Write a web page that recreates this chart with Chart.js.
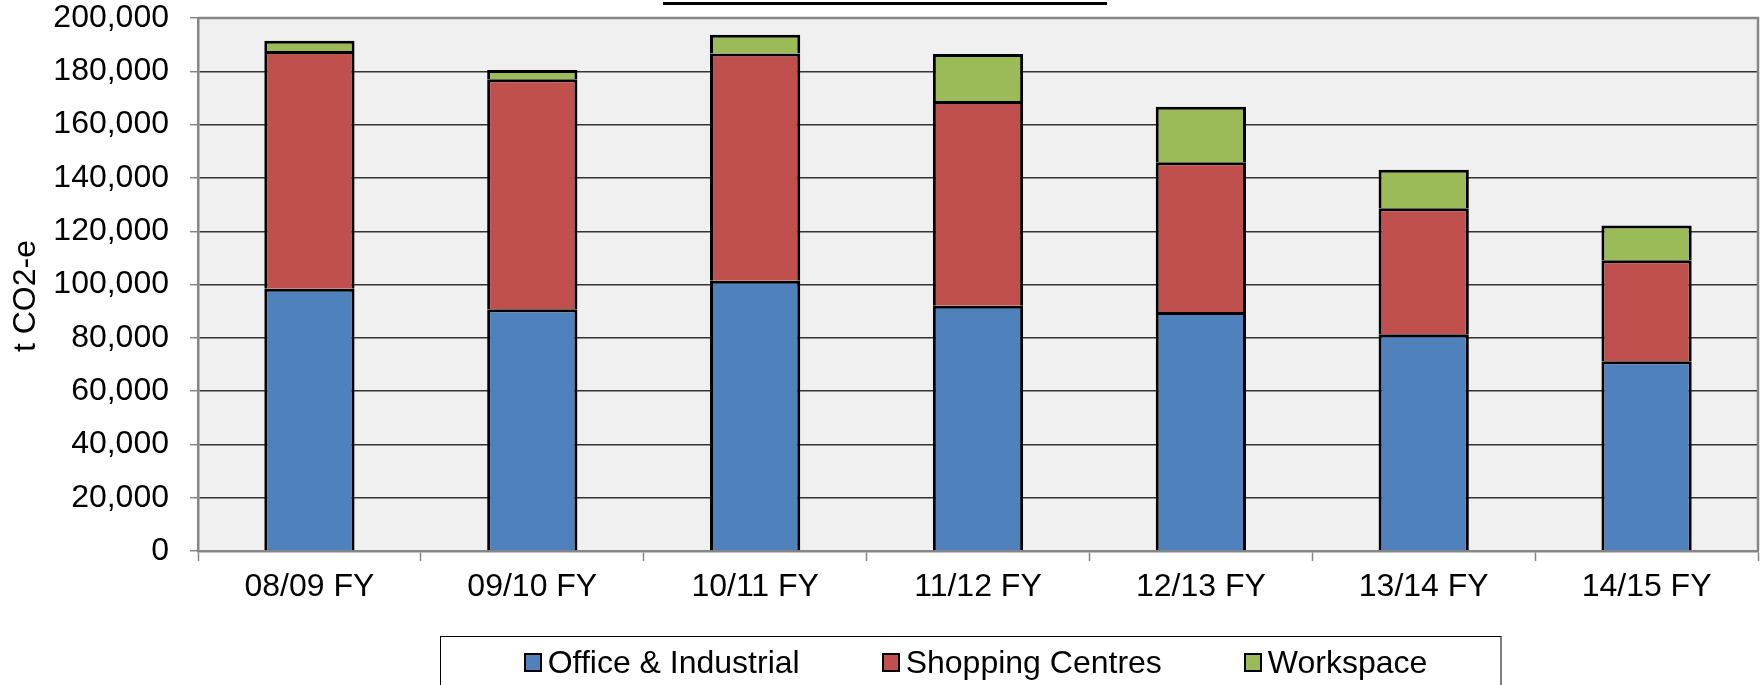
<!DOCTYPE html>
<html>
<head>
<meta charset="utf-8">
<script src="https://cdn.jsdelivr.net/npm/chart.js@4.4.1/dist/chart.umd.min.js"></script>
<style>
  html, body { margin: 0; padding: 0; background: #fff; overflow: hidden; }
  #wrap { position: relative; width: 1764px; height: 685px; }
  #c { position: absolute; left: 0; top: 0; }
  #titleLine { position: absolute; left: 663px; top: 2px; width: 444px; height: 3px; background: #000; }
  #legend {
    position: absolute; left: 440px; top: 636px; width: 1062px; height: 52px;
    border-left: 1.5px solid #000; border-top: 1.5px solid #000; border-right: 2px solid #808080;
    display: flex; align-items: center; justify-content: center; padding-left: 10px; box-sizing: border-box;
    font-family: "Liberation Sans", Arial, sans-serif; font-size: 32px; color: #000; gap: 82px;
  }
  .item { display: flex; align-items: center; white-space: nowrap; }
  .sw { width: 14px; height: 15px; border: 2px solid #000; margin-right: 6px; }
</style>
</head>
<body>
<div id="wrap">
  <canvas id="c" width="1764" height="685"></canvas>
  <div id="titleLine"></div>
  <div id="legend"></div>
</div>
<script>
const categories = ["08/09 FY", "09/10 FY", "10/11 FY", "11/12 FY", "12/13 FY", "13/14 FY", "14/15 FY"];
const officeIndustrial = [98400, 90700, 101400, 92000, 89700, 81300, 71200];
const shoppingCentres = [89200, 86300, 85300, 76900, 56200, 47300, 37900];
const workspace = [3900, 3500, 7000, 17600, 20800, 14500, 13000];
const yTickValues = [0, 20000, 40000, 60000, 80000, 100000, 120000, 140000, 160000, 180000, 200000];
const seriesNames = ["Office & Industrial", "Shopping Centres", "Workspace"];
const seriesColors = ["#4F81BD", "#C0504D", "#9BBB59"];
const yTitle = "t CO2-e";

const FONT = "'Liberation Sans', Arial, sans-serif";
const AXIS_GRAY = "#868686";
const TARGET_TOP = 18;

const plotFrame = {
  id: 'plotFrame',
  beforeDraw(chart) {
    const a = chart.chartArea, ctx = chart.ctx;
    ctx.save();
    ctx.fillStyle = '#F0F0F0';
    ctx.fillRect(a.left, a.top, a.right - a.left, a.bottom - a.top);
    ctx.restore();
  },
  afterDraw(chart) {
    const a = chart.chartArea, ctx = chart.ctx;
    ctx.save();
    ctx.strokeStyle = AXIS_GRAY;
    ctx.lineWidth = 2.5;
    ctx.beginPath();
    ctx.moveTo(a.left, a.top);
    ctx.lineTo(a.right, a.top);
    ctx.lineTo(a.right, a.bottom);
    ctx.stroke();
    ctx.fillStyle = '#000';
    ctx.font = "32px " + FONT;
    ctx.textAlign = 'center';
    ctx.textBaseline = 'alphabetic';
    ctx.translate(35, (a.top + a.bottom) / 2 + 11.5);
    ctx.rotate(-Math.PI / 2);
    ctx.fillText(yTitle, 0, 0);
    ctx.restore();
  }
};

const datasets = [officeIndustrial, shoppingCentres, workspace].map((d, i) => ({
  label: seriesNames[i],
  data: d,
  backgroundColor: seriesColors[i],
  borderColor: '#000',
  borderWidth: 3,
  borderSkipped: 'start',
  categoryPercentage: 1.0,
  barPercentage: 0.405
}));

const chart = new Chart(document.getElementById('c'), {
  type: 'bar',
  data: { labels: categories, datasets },
  options: {
    responsive: false,
    animation: false,
    devicePixelRatio: 1,
    layout: { padding: { left: 0, top: 0, right: 6, bottom: 74 } },
    plugins: { legend: { display: false }, tooltip: { enabled: false }, title: { display: false } },
    scales: {
      x: {
        stacked: true,
        afterFit(s) { s.height = 60; },
        grid: { display: true, drawOnChartArea: false, drawTicks: true, tickLength: 10, tickColor: AXIS_GRAY, tickWidth: 1.5, offset: true },
        border: { display: true, color: AXIS_GRAY, width: 2.5 },
        ticks: { color: '#000', font: { family: FONT, size: 32, lineHeight: 1.0 }, padding: 10, maxRotation: 0, autoSkip: false }
      },
      y: {
        stacked: true,
        min: 0, max: 200000,
        afterFit(s) { s.width = 198; s.paddingTop = TARGET_TOP; s.paddingBottom = 0; },
        afterBuildTicks(s) { s.ticks = yTickValues.map(v => ({ value: v })); },
        grid: {
          color: (c) => (c.tick && (c.tick.value === 0 || c.tick.value === 200000)) ? AXIS_GRAY : '#333333',
          lineWidth: 1.4,
          drawTicks: true, tickLength: 8, tickColor: AXIS_GRAY, tickWidth: 1.5
        },
        border: { display: true, color: AXIS_GRAY, width: 2.5 },
        ticks: {
          color: '#000', font: { family: FONT, size: 32, lineHeight: 1.0 }, padding: 21,
          callback: (v) => Number(v).toLocaleString('en-US')
        }
      }
    }
  },
  plugins: [plotFrame]
});

const lg = document.getElementById('legend');
chart.data.datasets.forEach(ds => {
  const it = document.createElement('div'); it.className = 'item';
  const sw = document.createElement('div'); sw.className = 'sw'; sw.style.background = ds.backgroundColor;
  const tx = document.createElement('span'); tx.textContent = ds.label;
  it.appendChild(sw); it.appendChild(tx); lg.appendChild(it);
});
</script>
</body>
</html>
